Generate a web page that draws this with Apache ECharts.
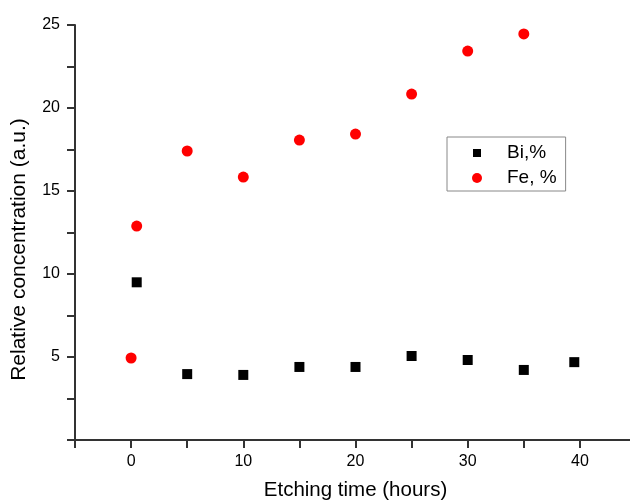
<!DOCTYPE html>
<html><head><meta charset="utf-8">
<script src="https://cdn.jsdelivr.net/npm/echarts@6/dist/echarts.min.js"></script>
<style>html,body{margin:0;padding:0;background:#fff}#c{width:630px;height:503px}</style>
</head><body><div id="c"></div>
<script>
const biX = [0.5, 5, 10, 15, 20, 25, 30, 35, 39.5];
const biY = [9.5, 3.97, 3.92, 4.4, 4.4, 5.06, 4.82, 4.22, 4.69];
const feX = [0, 0.5, 5, 10, 15, 20, 25, 30, 35];
const feY = [4.94, 12.89, 17.41, 15.84, 18.07, 18.43, 20.84, 23.43, 24.46];
const xTicks = [0, 10, 20, 30, 40];
const yTicks = [5, 10, 15, 20, 25];

const chart = echarts.init(document.getElementById('c'), null, {renderer:'canvas'});
const font = 'Liberation Sans, Arial, sans-serif';
chart.setOption({
  animation:false,
  backgroundColor:'#fff',
  grid:{left:75, top:25, width:561, height:415, containLabel:false, outerBoundsMode:'none'},
  legend:{
    left:447, top:137, orient:'vertical', itemGap:5, itemWidth:50, itemHeight:10,
    padding:[6,9,3,25], borderColor:'#888', borderWidth:1, symbolKeepAspect:true,
    textStyle:{fontFamily:font, fontSize:19, color:'#000', lineHeight:20},
    data:[{name:'Bi,%', icon:'path://M0,0M10,10M1,1L9,1L9,9L1,9Z'},{name:'Fe, %', icon:'circle'}]
  },
  xAxis:{
    type:'value', min:-5, max:45, interval:5,
    name:'Etching time (hours)', nameLocation:'middle', nameGap:40,
    nameTextStyle:{fontFamily:font, fontSize:20.5, color:'#000'},
    axisLine:{onZero:false, lineStyle:{color:'#333', width:2}},
    axisTick:{length:8, inside:false, lineStyle:{color:'#333', width:2}},
    axisLabel:{fontFamily:font, fontSize:16, color:'#000', margin:14,
      formatter:v=> xTicks.includes(v)? String(v):''},
    splitLine:{show:false}
  },
  yAxis:{
    type:'value', min:0, max:25, interval:2.5,
    name:'Relative concentration (a.u.)', nameLocation:'middle', nameGap:45,
    nameTextStyle:{fontFamily:font, fontSize:21, color:'#000', padding:[0,0,0,-34]},
    axisLine:{onZero:false, lineStyle:{color:'#333', width:2}},
    axisTick:{length:8, lineStyle:{color:'#333', width:2}},
    axisLabel:{fontFamily:font, fontSize:16, color:'#000', margin:15,
      formatter:v=> yTicks.includes(v)? String(v):''},
    splitLine:{show:false}
  },
  series:[
    {name:'Bi,%', type:'scatter', symbol:'rect', symbolSize:10,
     itemStyle:{color:'#000', opacity:1}, data:biX.map((x,i)=>[x,biY[i]])},
    {name:'Fe, %', type:'scatter', symbol:'circle', symbolSize:11,
     itemStyle:{color:'#ff0000', opacity:1}, data:feX.map((x,i)=>[x,feY[i]])}
  ]
});
</script></body></html>
